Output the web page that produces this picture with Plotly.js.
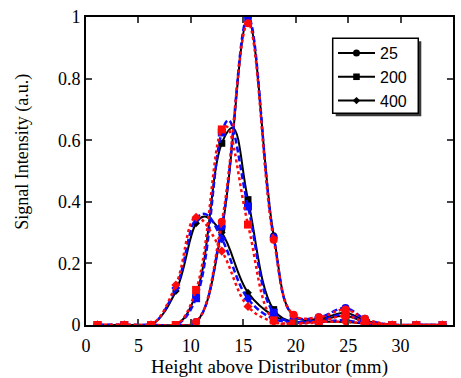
<!DOCTYPE html>
<html>
<head>
<meta charset="utf-8">
<script src="https://cdn.plot.ly/plotly-3.0.1.min.js"></script>
<style>
html,body{margin:0;padding:0;background:#fff;}
#chart{width:461px;height:378px;}
</style>
</head>
<body>
<div id="chart"></div>
<script>
// Measurement heights above distributor (mm) — marked points
const heights = [1.1, 3.65, 6.2, 8.57, 10.5, 12.95, 15.45, 17.9, 19.8, 22.2, 24.75, 26.6, 29.2, 31.5, 34.0];

// Series "25" (circles)
const s25_black = [0, 0, 0, 0, 0.01, 0.31, 0.99, 0.29, 0.03, 0.02, 0.04, 0.015, 0, 0, 0];
const s25_blue  = [0, 0, 0, 0, 0.01, 0.32, 1.00, 0.285, 0.03, 0.025, 0.055, 0.02, 0, 0, 0];
const s25_red   = [0, 0, 0, 0, 0.01, 0.335, 0.98, 0.277, 0.033, 0.025, 0.05, 0.02, 0, 0, 0];

// Series "200" (squares)
const s200_black = [0, 0, 0, 0, 0.10, 0.59, 0.407, 0.05, 0.01, 0.015, 0.03, 0.01, 0, 0, 0];
const s200_blue  = [0, 0, 0, 0, 0.087, 0.625, 0.385, 0.04, 0.01, 0.015, 0.035, 0.01, 0, 0, 0];
const s200_red   = [0, 0, 0, 0, 0.114, 0.635, 0.326, 0.015, 0.005, 0.01, 0.03, 0.01, 0, 0, 0];

// Series "400" (diamonds)
const s400_black = [0, 0, 0, 0.11, 0.33, 0.30, 0.105, 0.03, 0.01, 0.01, 0.01, 0.005, 0, 0, 0];
const s400_blue  = [0, 0, 0, 0.12, 0.345, 0.28, 0.085, 0.02, 0.01, 0.01, 0.015, 0.005, 0, 0, 0];
const s400_red   = [0, 0, 0, 0.13, 0.35, 0.24, 0.06, 0.01, 0.005, 0.01, 0.01, 0.005, 0, 0, 0];

// Curve maxima read from the drawn (unmarked) fitted lines: [height, intensity]
const peak_s200_black = [14.0, 0.64];
const peak_s200_blue  = [13.6, 0.665];
const peak_s200_red   = [13.4, 0.645];
const peak_s400_black = [11.3, 0.352];
const peak_s400_blue  = [11.4, 0.36];

const legendNames = ["25", "200", "400"];
const xTicks = [0, 5, 10, 15, 20, 25, 30, 35];
const yTicks = [0, 0.2, 0.4, 0.6, 0.8, 1];

const BLACK = "#000000", BLUE = "#0a0aff", RED = "#ff0a0a";

// merge measured points with an optional curve maximum (drawn without a marker)
function withPeak(ys, peak) {
  const pts = heights.map((h, i) => ({x: h, y: ys[i], m: true}));
  if (peak) pts.push({x: peak[0], y: peak[1], m: false});
  pts.sort((a, b) => a.x - b.x);
  return pts;
}

function tr(ys, peak, color, dash, width, symbol, msize, name, showleg) {
  const pts = withPeak(ys, peak);
  return {
    x: pts.map(p => p.x), y: pts.map(p => p.y), type: "scatter", mode: "lines+markers",
    name: name, showlegend: showleg,
    line: {color: color, dash: dash, width: width, shape: "spline", smoothing: 1.1},
    marker: {symbol: symbol, size: pts.map(p => p.m ? msize : 0), color: color,
             opacity: 1, line: {width: 0}}
  };
}

const traces = [
  tr(s25_black, null, BLACK, "solid", 2, "circle", 7, legendNames[0], true),
  tr(s200_black, peak_s200_black, BLACK, "solid", 2, "square", 7, legendNames[1], true),
  tr(s400_black, peak_s400_black, BLACK, "solid", 2, "diamond", 6, legendNames[2], true),
  tr(s25_blue, null, BLUE, "6px,3px", 2.5, "circle", 8, "25 b", false),
  tr(s200_blue, peak_s200_blue, BLUE, "6px,3px", 2.5, "square", 8, "200 b", false),
  tr(s400_blue, peak_s400_blue, BLUE, "6px,3px", 2.5, "diamond", 7, "400 b", false),
  tr(s25_red, null, RED, "dot", 2.5, "circle", 8, "25 r", false),
  tr(s200_red, peak_s200_red, RED, "dot", 2.5, "square", 8, "200 r", false),
  tr(s400_red, null, RED, "dot", 2.5, "diamond", 7, "400 r", false)
];

const serif = "Liberation Serif, Times New Roman, serif";

const layout = {
  width: 461, height: 378,
  margin: {l: 86, r: 8, t: 17, b: 53},
  paper_bgcolor: "#fff", plot_bgcolor: "#fff",
  showlegend: true,
  xaxis: {
    range: [0, 35], tickvals: xTicks, ticks: "inside", ticklen: 6, tickwidth: 2,
    showline: true, linewidth: 2, linecolor: "#000", mirror: "ticks",
    showgrid: false, zeroline: false, ticklabelstandoff: 3,
    tickfont: {family: serif, size: 18, color: "#000"},
    title: {text: "Height above Distributor (mm)", font: {family: serif, size: 19, color: "#000"}, standoff: 6}
  },
  yaxis: {
    range: [0, 1], tickvals: yTicks, ticks: "inside", ticklen: 6, tickwidth: 2,
    showline: true, linewidth: 2, linecolor: "#000", mirror: "ticks",
    showgrid: false, zeroline: false,
    tickfont: {family: serif, size: 18, color: "#000"}
  },
  annotations: [{
    text: "Signal Intensity (a.u.)", xref: "paper", yref: "paper",
    x: -0.172, y: 0.562, xanchor: "center", yanchor: "middle", textangle: -90,
    showarrow: false, font: {family: serif, size: 18, color: "#000"}
  }],
  legend: {
    x: 0.673, y: 0.805, xanchor: "left", yanchor: "middle",
    bgcolor: "rgba(0,0,0,0)", borderwidth: 0, itemwidth: 37,
    font: {family: "Liberation Sans, Arial, sans-serif", size: 16, color: "#000"},
    traceorder: "normal"
  },
  shapes: [
    {type: "rect", xref: "paper", yref: "paper", x0: 0.6804, x1: 0.9136, y0: 0.6776, y1: 0.9211,
     fillcolor: "#3a3a3a", line: {width: 0}, layer: "above"},
    {type: "rect", xref: "paper", yref: "paper", x0: 0.6722, x1: 0.9054, y0: 0.6873, y1: 0.9308,
     fillcolor: "#ffffff", line: {width: 1.5, color: "#000"}, layer: "above"}
  ]
};

Plotly.newPlot("chart", traces, layout, {displayModeBar: false, staticPlot: true});
</script>
</body>
</html>
